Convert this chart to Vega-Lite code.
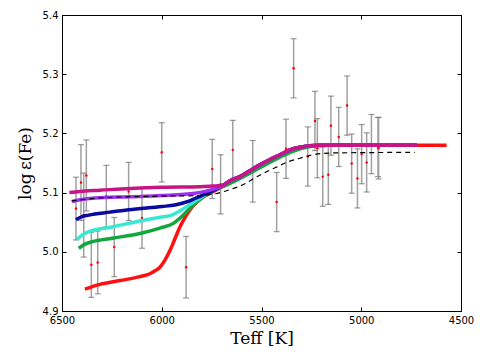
{
  "$schema": "https://vega.github.io/schema/vega-lite/v6.json",
  "width": 399,
  "height": 296,
  "autosize": "none",
  "padding": {"left": 62, "top": 15, "right": 19, "bottom": 49},
  "background": "white",
  "config": {
    "view": {"stroke": "black", "strokeWidth": 1},
    "axis": {
      "domainColor": "black", "domainWidth": 1, "tickColor": "black", "tickSize": -4, "tickWidth": 1,
      "labelFont": "DejaVu Sans", "labelFontSize": 10, "labelColor": "black", "labelPadding": 8,
      "grid": false, "titleFont": "DejaVu Serif", "titleFontSize": 17, "titleFontWeight": "normal",
      "titleColor": "black", "labelFlush": false, "labelOverlap": false
    }
  },
  "datasets": {
    "obs": [
      {"T": 6430, "v": 5.073, "lo": 5.020, "hi": 5.126},
      {"T": 6405, "v": 5.117, "lo": 5.053, "hi": 5.181},
      {"T": 6391, "v": 5.062, "lo": 4.991, "hi": 5.133},
      {"T": 6378, "v": 5.129, "lo": 5.069, "hi": 5.189},
      {"T": 6353, "v": 4.978, "lo": 4.923, "hi": 5.033},
      {"T": 6321, "v": 4.982, "lo": 4.929, "hi": 5.035},
      {"T": 6278, "v": 5.094, "lo": 5.042, "hi": 5.146},
      {"T": 6238, "v": 5.008, "lo": 4.958, "hi": 5.058},
      {"T": 6166, "v": 5.102, "lo": 5.053, "hi": 5.151},
      {"T": 6099, "v": 5.057, "lo": 5.006, "hi": 5.108},
      {"T": 6000, "v": 5.168, "lo": 5.118, "hi": 5.218},
      {"T": 5878, "v": 4.974, "lo": 4.922, "hi": 5.026},
      {"T": 5747, "v": 5.140, "lo": 5.090, "hi": 5.190},
      {"T": 5705, "v": 5.114, "lo": 5.064, "hi": 5.164},
      {"T": 5644, "v": 5.172, "lo": 5.122, "hi": 5.222},
      {"T": 5544, "v": 5.136, "lo": 5.084, "hi": 5.188},
      {"T": 5424, "v": 5.084, "lo": 5.034, "hi": 5.134},
      {"T": 5377, "v": 5.174, "lo": 5.124, "hi": 5.224},
      {"T": 5339, "v": 5.310, "lo": 5.260, "hi": 5.360},
      {"T": 5268, "v": 5.161, "lo": 5.111, "hi": 5.211},
      {"T": 5232, "v": 5.221, "lo": 5.171, "hi": 5.271},
      {"T": 5220, "v": 5.175, "lo": 5.125, "hi": 5.225},
      {"T": 5193, "v": 5.127, "lo": 5.077, "hi": 5.177},
      {"T": 5165, "v": 5.130, "lo": 5.080, "hi": 5.180},
      {"T": 5152, "v": 5.213, "lo": 5.163, "hi": 5.263},
      {"T": 5113, "v": 5.194, "lo": 5.144, "hi": 5.244},
      {"T": 5071, "v": 5.247, "lo": 5.197, "hi": 5.297},
      {"T": 5048, "v": 5.149, "lo": 5.099, "hi": 5.199},
      {"T": 5019, "v": 5.124, "lo": 5.074, "hi": 5.174},
      {"T": 4998, "v": 5.165, "lo": 5.115, "hi": 5.215},
      {"T": 4973, "v": 5.151, "lo": 5.101, "hi": 5.201},
      {"T": 4949, "v": 5.182, "lo": 5.132, "hi": 5.232},
      {"T": 4913, "v": 5.175, "lo": 5.123, "hi": 5.227},
      {"T": 4916, "v": 5.177, "lo": 5.127, "hi": 5.227}
    ],
    "models": [
      {"model": "a_red", "T": 6385, "v": 4.937}, {"model": "a_red", "T": 6310, "v": 4.945}, {"model": "a_red", "T": 6209, "v": 4.9515},
      {"model": "a_red", "T": 6109, "v": 4.958}, {"model": "a_red", "T": 6059, "v": 4.963}, {"model": "a_red", "T": 6034, "v": 4.968},
      {"model": "a_red", "T": 6009, "v": 4.974}, {"model": "a_red", "T": 5984, "v": 4.986}, {"model": "a_red", "T": 5959, "v": 5.002},
      {"model": "a_red", "T": 5934, "v": 5.022}, {"model": "a_red", "T": 5909, "v": 5.042}, {"model": "a_red", "T": 5883, "v": 5.058},
      {"model": "a_red", "T": 5858, "v": 5.071}, {"model": "a_red", "T": 5833, "v": 5.081}, {"model": "a_red", "T": 5798, "v": 5.091},
      {"model": "a_red", "T": 5758, "v": 5.099}, {"model": "a_red", "T": 5698, "v": 5.110}, {"model": "a_red", "T": 5658, "v": 5.120},
      {"model": "a_red", "T": 5608, "v": 5.127}, {"model": "a_red", "T": 5558, "v": 5.137}, {"model": "a_red", "T": 5508, "v": 5.147},
      {"model": "a_red", "T": 5457, "v": 5.156}, {"model": "a_red", "T": 5407, "v": 5.164}, {"model": "a_red", "T": 5357, "v": 5.172},
      {"model": "a_red", "T": 5307, "v": 5.1765}, {"model": "a_red", "T": 5257, "v": 5.179}, {"model": "a_red", "T": 5207, "v": 5.180},
      {"model": "a_red", "T": 5157, "v": 5.180}, {"model": "a_red", "T": 4572, "v": 5.180},

      {"model": "b_green", "T": 6416, "v": 5.006}, {"model": "b_green", "T": 6385, "v": 5.013}, {"model": "b_green", "T": 6350, "v": 5.017},
      {"model": "b_green", "T": 6249, "v": 5.023}, {"model": "b_green", "T": 6109, "v": 5.031}, {"model": "b_green", "T": 6009, "v": 5.040},
      {"model": "b_green", "T": 5942, "v": 5.048}, {"model": "b_green", "T": 5892, "v": 5.062}, {"model": "b_green", "T": 5842, "v": 5.079},
      {"model": "b_green", "T": 5792, "v": 5.093}, {"model": "b_green", "T": 5743, "v": 5.1035}, {"model": "b_green", "T": 5698, "v": 5.1095},
      {"model": "b_green", "T": 5608, "v": 5.124}, {"model": "b_green", "T": 5508, "v": 5.142}, {"model": "b_green", "T": 5407, "v": 5.160},
      {"model": "b_green", "T": 5307, "v": 5.174}, {"model": "b_green", "T": 5207, "v": 5.1796}, {"model": "b_green", "T": 5157, "v": 5.180},
      {"model": "b_green", "T": 4722, "v": 5.180},

      {"model": "c_cyan", "T": 6425, "v": 5.021}, {"model": "c_cyan", "T": 6400, "v": 5.028}, {"model": "c_cyan", "T": 6366, "v": 5.034},
      {"model": "c_cyan", "T": 6249, "v": 5.042}, {"model": "c_cyan", "T": 6109, "v": 5.052}, {"model": "c_cyan", "T": 5999, "v": 5.059},
      {"model": "c_cyan", "T": 5950, "v": 5.062}, {"model": "c_cyan", "T": 5900, "v": 5.071}, {"model": "c_cyan", "T": 5850, "v": 5.082},
      {"model": "c_cyan", "T": 5783, "v": 5.096}, {"model": "c_cyan", "T": 5743, "v": 5.1035}, {"model": "c_cyan", "T": 5698, "v": 5.111},
      {"model": "c_cyan", "T": 5658, "v": 5.120}, {"model": "c_cyan", "T": 5608, "v": 5.127}, {"model": "c_cyan", "T": 5558, "v": 5.137},
      {"model": "c_cyan", "T": 5508, "v": 5.147}, {"model": "c_cyan", "T": 5457, "v": 5.156}, {"model": "c_cyan", "T": 5407, "v": 5.164},
      {"model": "c_cyan", "T": 5357, "v": 5.172}, {"model": "c_cyan", "T": 5307, "v": 5.1765}, {"model": "c_cyan", "T": 5257, "v": 5.179},
      {"model": "c_cyan", "T": 5207, "v": 5.180}, {"model": "c_cyan", "T": 4722, "v": 5.180},

      {"model": "d_blue", "T": 6430, "v": 5.054}, {"model": "d_blue", "T": 6410, "v": 5.058}, {"model": "d_blue", "T": 6366, "v": 5.062},
      {"model": "d_blue", "T": 6259, "v": 5.067}, {"model": "d_blue", "T": 6166, "v": 5.071}, {"model": "d_blue", "T": 5999, "v": 5.0765},
      {"model": "d_blue", "T": 5934, "v": 5.079}, {"model": "d_blue", "T": 5867, "v": 5.085}, {"model": "d_blue", "T": 5833, "v": 5.090},
      {"model": "d_blue", "T": 5800, "v": 5.095}, {"model": "d_blue", "T": 5750, "v": 5.102}, {"model": "d_blue", "T": 5698, "v": 5.111},
      {"model": "d_blue", "T": 5658, "v": 5.120}, {"model": "d_blue", "T": 5608, "v": 5.127}, {"model": "d_blue", "T": 5558, "v": 5.137},
      {"model": "d_blue", "T": 5508, "v": 5.147}, {"model": "d_blue", "T": 5457, "v": 5.156}, {"model": "d_blue", "T": 5407, "v": 5.164},
      {"model": "d_blue", "T": 5357, "v": 5.172}, {"model": "d_blue", "T": 5307, "v": 5.1765}, {"model": "d_blue", "T": 5257, "v": 5.179},
      {"model": "d_blue", "T": 5207, "v": 5.180}, {"model": "d_blue", "T": 4722, "v": 5.180},

      {"model": "e_purple", "T": 6450, "v": 5.085}, {"model": "e_purple", "T": 6410, "v": 5.088}, {"model": "e_purple", "T": 6335, "v": 5.091},
      {"model": "e_purple", "T": 6159, "v": 5.093}, {"model": "e_purple", "T": 5999, "v": 5.095}, {"model": "e_purple", "T": 5833, "v": 5.099},
      {"model": "e_purple", "T": 5783, "v": 5.102}, {"model": "e_purple", "T": 5748, "v": 5.105}, {"model": "e_purple", "T": 5698, "v": 5.111},
      {"model": "e_purple", "T": 5658, "v": 5.120}, {"model": "e_purple", "T": 5608, "v": 5.127}, {"model": "e_purple", "T": 5558, "v": 5.137},
      {"model": "e_purple", "T": 5508, "v": 5.147}, {"model": "e_purple", "T": 5457, "v": 5.156}, {"model": "e_purple", "T": 5407, "v": 5.164},
      {"model": "e_purple", "T": 5357, "v": 5.172}, {"model": "e_purple", "T": 5307, "v": 5.1765}, {"model": "e_purple", "T": 5257, "v": 5.179},
      {"model": "e_purple", "T": 5207, "v": 5.180}, {"model": "e_purple", "T": 4722, "v": 5.180},

      {"model": "f_magenta", "T": 6463, "v": 5.100}, {"model": "f_magenta", "T": 6410, "v": 5.102}, {"model": "f_magenta", "T": 6310, "v": 5.104},
      {"model": "f_magenta", "T": 6159, "v": 5.107}, {"model": "f_magenta", "T": 5999, "v": 5.109}, {"model": "f_magenta", "T": 5808, "v": 5.110},
      {"model": "f_magenta", "T": 5748, "v": 5.111}, {"model": "f_magenta", "T": 5698, "v": 5.112}, {"model": "f_magenta", "T": 5658, "v": 5.120},
      {"model": "f_magenta", "T": 5608, "v": 5.127}, {"model": "f_magenta", "T": 5558, "v": 5.137}, {"model": "f_magenta", "T": 5508, "v": 5.147},
      {"model": "f_magenta", "T": 5457, "v": 5.156}, {"model": "f_magenta", "T": 5407, "v": 5.164}, {"model": "f_magenta", "T": 5357, "v": 5.172},
      {"model": "f_magenta", "T": 5307, "v": 5.1765}, {"model": "f_magenta", "T": 5257, "v": 5.179}, {"model": "f_magenta", "T": 5207, "v": 5.180},
      {"model": "f_magenta", "T": 4722, "v": 5.180}
    ],
    "dash": [
      {"T": 6452, "v": 5.086}, {"T": 6310, "v": 5.091}, {"T": 6159, "v": 5.093}, {"T": 6009, "v": 5.094},
      {"T": 5808, "v": 5.095}, {"T": 5748, "v": 5.097}, {"T": 5668, "v": 5.104}, {"T": 5583, "v": 5.115},
      {"T": 5533, "v": 5.125}, {"T": 5482, "v": 5.134}, {"T": 5432, "v": 5.142}, {"T": 5367, "v": 5.152},
      {"T": 5307, "v": 5.158}, {"T": 5257, "v": 5.163}, {"T": 5197, "v": 5.166}, {"T": 5132, "v": 5.167},
      {"T": 4731, "v": 5.168}
    ]
  },
  "layer": [
    {
      "data": {"name": "obs"},
      "mark": {"type": "rule", "color": "#a0a0a0", "strokeWidth": 1.5},
      "encoding": {
        "x": {"field": "T", "type": "quantitative",
              "scale": {"domain": [4500, 6500], "reverse": true, "nice": false, "zero": false},
              "axis": {"orient": "bottom", "values": [4500, 5000, 5500, 6000, 6500], "format": "d", "title": "Teff [K]", "titlePadding": 5}},
        "y": {"field": "lo", "type": "quantitative",
              "scale": {"domain": [4.9, 5.4], "nice": false, "zero": false},
              "axis": {"orient": "left", "values": [4.9, 5.0, 5.1, 5.2, 5.3, 5.4], "format": ".1f", "title": "log\u2009ε(Fe)", "titlePadding": 8}},
        "y2": {"field": "hi"}
      }
    },
    {
      "data": {"name": "obs"},
      "mark": {"type": "tick", "orient": "horizontal", "size": 6, "thickness": 1.2, "color": "#707070"},
      "encoding": {
        "x": {"field": "T", "type": "quantitative", "axis": null},
        "y": {"field": "lo", "type": "quantitative", "axis": null}
      }
    },
    {
      "data": {"name": "obs"},
      "mark": {"type": "tick", "orient": "horizontal", "size": 6, "thickness": 1.2, "color": "#707070"},
      "encoding": {
        "x": {"field": "T", "type": "quantitative", "axis": null},
        "y": {"field": "hi", "type": "quantitative", "axis": null}
      }
    },
    {
      "data": {"name": "obs"},
      "mark": {"type": "point", "filled": true, "color": "#ff0000", "size": 6, "opacity": 1},
      "encoding": {
        "x": {"field": "T", "type": "quantitative", "axis": null},
        "y": {"field": "v", "type": "quantitative", "axis": null}
      }
    },
    {
      "data": {"name": "models"},
      "mark": {"type": "line", "strokeWidth": 3.5, "strokeCap": "butt", "strokeJoin": "round", "interpolate": "monotone"},
      "encoding": {
        "x": {"field": "T", "type": "quantitative", "axis": null},
        "y": {"field": "v", "type": "quantitative", "axis": null},
        "color": {"field": "model", "type": "nominal", "legend": null,
                  "scale": {"domain": ["a_red", "b_green", "c_cyan", "d_blue", "e_purple", "f_magenta"],
                            "range": ["#ff1010", "#10a83a", "#38e8d0", "#0a0aa0", "#a030f0", "#c71585"]}}
      }
    },
    {
      "data": {"name": "dash"},
      "mark": {"type": "line", "color": "black", "strokeWidth": 1.2, "strokeDash": [5, 4], "interpolate": "monotone"},
      "encoding": {
        "x": {"field": "T", "type": "quantitative",
              "axis": {"orient": "top", "values": [4500, 5000, 5500, 6000, 6500], "labels": false, "title": null, "domain": false}},
        "y": {"field": "v", "type": "quantitative",
              "axis": {"orient": "right", "values": [4.9, 5.0, 5.1, 5.2, 5.3, 5.4], "labels": false, "title": null, "domain": false}}
      }
    }
  ],
  "resolve": {"axis": {"x": "independent", "y": "independent"}}
}
